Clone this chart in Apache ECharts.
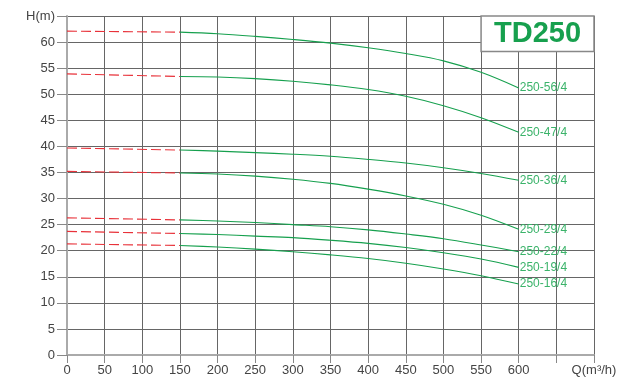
<!DOCTYPE html>
<html><head><meta charset="utf-8">
<script src="https://cdn.jsdelivr.net/npm/echarts@6/dist/echarts.min.js"></script>
<style>html,body{margin:0;padding:0;background:#fff}#c{width:627px;height:385px}</style>
</head><body><div id="c"></div>
<script>
const models = ['250-56/4','250-47/4','250-36/4','250-29/4','250-22/4','250-19/4','250-16/4'];
const flowDashed = [0, 150];
const flow = [150, 200, 250, 300, 350, 400, 450, 500, 550, 600];
const head56 = [62.1, 61.9, 61.6, 61.1, 60.5, 59.8, 58.9, 57.8, 56.4, 54.2, 51.2];
const head47 = [53.9, 53.4, 53.3, 53.0, 52.5, 51.8, 50.9, 49.6, 47.8, 45.5, 42.7];
const head36 = [39.7, 39.3, 39.1, 38.8, 38.5, 38.1, 37.5, 36.8, 35.9, 34.8, 33.5];
const head29 = [35.2, 34.9, 34.7, 34.3, 33.7, 32.9, 31.8, 30.5, 28.9, 26.8, 24.1];
const head22 = [26.3, 25.9, 25.7, 25.4, 25.0, 24.6, 24.0, 23.2, 22.3, 21.1, 19.8];
const head19 = [23.7, 23.3, 23.1, 22.8, 22.5, 22.0, 21.4, 20.6, 19.6, 18.4, 16.8];
const head16 = [21.3, 21.0, 20.7, 20.3, 19.8, 19.2, 18.5, 17.6, 16.5, 15.2, 13.6];
const heads = [head56, head47, head36, head29, head22, head19, head16];
const xTicks = [0,50,100,150,200,250,300,350,400,450,500,550,600];
const xName = 'Q(m³/h)';
const yName = 'H(m)';
const title = 'TD250';

const FONT = '"Liberation Sans", Arial, sans-serif';
const series = [];
models.forEach((m, i) => {
  const h = heads[i];
  series.push({
    type: 'line', name: m + ' ext', silent: true, symbol: 'none',
    data: [[flowDashed[0], h[0]], [flowDashed[1], h[1]]],
    lineStyle: { color: '#e8323a', width: 1.1, type: [10, 4] }, z: 3
  });
  series.push({
    type: 'line', name: m, silent: true, symbol: 'none', smooth: 0.35,
    data: flow.map((q, k) => [q, h[k + 1]]),
    lineStyle: { color: '#16a04e', width: 1.1 }, z: 3,
    endLabel: { show: true, formatter: m, distance: 1, color: '#3bb36a',
      fontSize: 12, fontFamily: FONT }
  });
});
series.push({
  type: 'line', data: [], silent: true,
  markArea: {
    silent: true,
    itemStyle: { color: '#fff', borderColor: '#888', borderWidth: 1.5 },
    label: { show: true, position: 'inside', formatter: title, color: '#17a04e',
      fontSize: 29, fontWeight: 'bold', fontFamily: FONT },
    data: [[{ coord: [550, 58.2] }, { coord: [700, 65] }]]
  }, z: 2
});

const chart = echarts.init(document.getElementById('c'), null, { renderer: 'canvas' });
chart.setOption({
  animation: false,
  grid: { left: 67, right: 33, top: 16, bottom: 30 },
  xAxis: {
    type: 'value', min: 0, max: 700, interval: 50,
    axisLine: { show: true, lineStyle: { color: '#aaa', width: 2 } },
    axisTick: { show: true, length: 8, lineStyle: { color: '#888' } },
    splitLine: { show: true, lineStyle: { color: '#666', width: 1 } },
    axisLabel: { margin: 9, color: '#444', fontSize: 13, fontFamily: FONT,
      formatter: v => v === 700 ? xName : (xTicks.indexOf(v) >= 0 ? String(v) : ''),
      showMaxLabel: true }
  },
  yAxis: {
    type: 'value', min: 0, max: 65, interval: 5,
    axisLine: { show: true, lineStyle: { color: '#aaa', width: 2 } },
    axisTick: { show: true, length: 10, lineStyle: { color: '#888' } },
    splitLine: { show: true, lineStyle: { color: '#666', width: 1 } },
    axisLabel: { margin: 12, color: '#444', fontSize: 13, fontFamily: FONT,
      formatter: v => v === 65 ? yName : String(v), showMaxLabel: true }
  },
  series: series
});
</script></body></html>
